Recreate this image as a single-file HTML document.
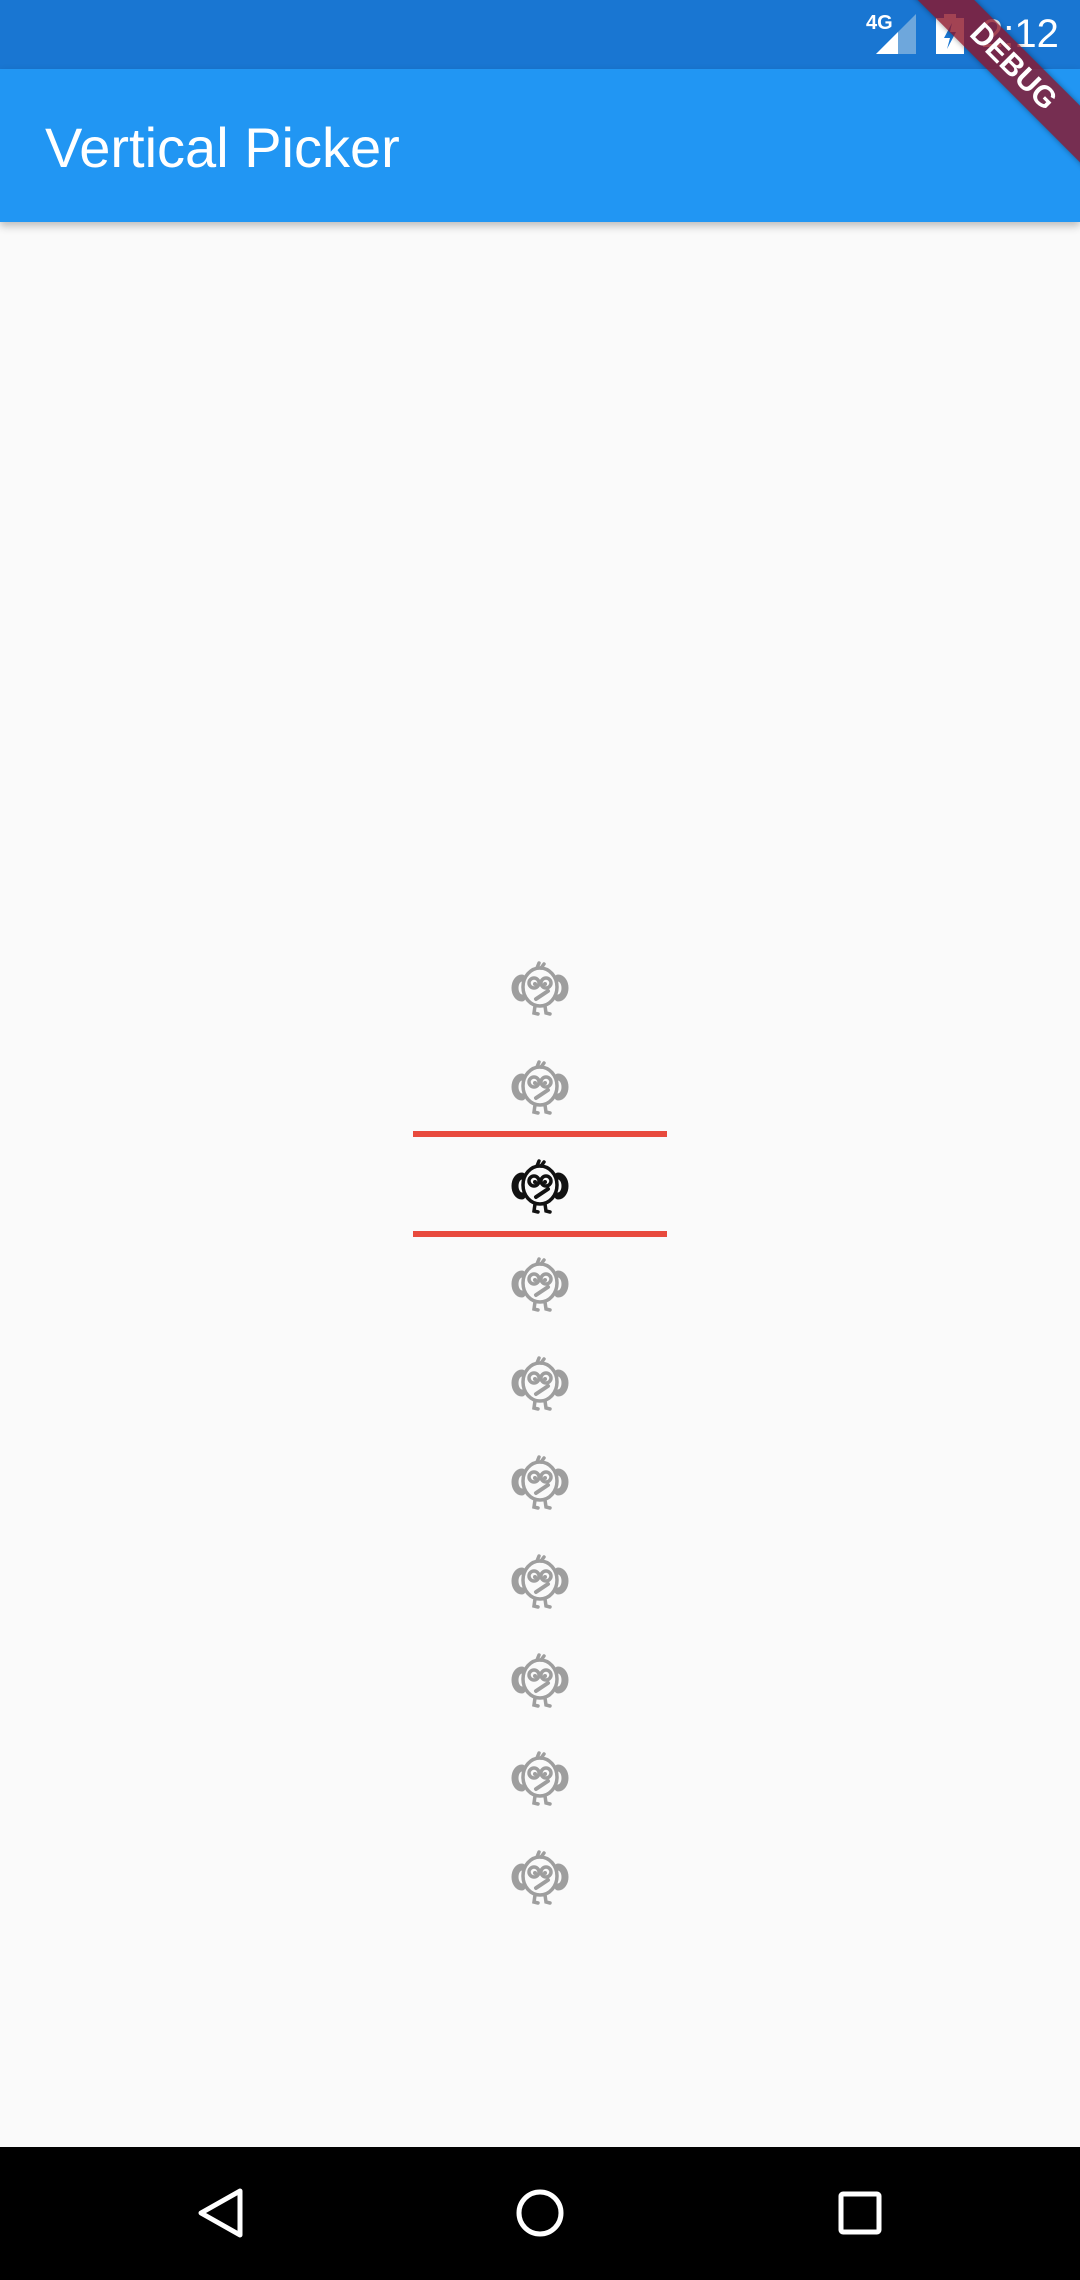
<!DOCTYPE html>
<html><head><meta charset="utf-8">
<style>
html,body{margin:0;padding:0;}
body{width:1080px;height:2280px;position:relative;overflow:hidden;background:#FAFAFA;font-family:"Liberation Sans",sans-serif;}
#status{position:absolute;left:0;top:0;width:1080px;height:69px;background:#1976D2;}
#appbar{position:absolute;left:0;top:69px;width:1080px;height:153px;background:#2196F3;box-shadow:0 4px 8px rgba(0,0,0,0.25);}
#title{position:absolute;left:45px;top:49px;font-size:56px;color:#fff;line-height:60px;}
#nav{position:absolute;left:0;top:2147px;width:1080px;height:133px;background:#000;}
.icon{position:absolute;width:60px;height:60px;}
.sel-line{position:absolute;left:413px;width:254px;height:6px;background:#E84A3D;}
#banner{position:absolute;left:863px;top:47px;width:300px;height:40px;background:rgba(140,20,40,0.8);transform:rotate(45deg);color:#fff;font-weight:bold;font-size:30px;text-align:center;line-height:40px;box-shadow:0 0 6px rgba(0,0,0,0.4);}
</style></head><body>
<div id="status">
  <span style="position:absolute;left:866px;top:12px;color:#fff;font-size:20px;font-weight:bold;">4G</span>
  <svg style="position:absolute;left:876px;top:14px" width="40" height="40"><polygon points="0,40 40,0 40,40" fill="#6ea7dc"/><polygon points="0,40 22,18 22,40" fill="#fff"/></svg>
  <svg style="position:absolute;left:936px;top:14px" width="28" height="40"><rect x="8" y="0" width="12" height="4" fill="#fff"/><rect x="0" y="4" width="28" height="36" fill="#fff"/><polygon points="16,9 8,24 14,24 11,35 20,18 14,18" fill="#1976D2"/></svg>
  <span style="position:absolute;left:981px;top:12px;color:#fff;font-size:40px;">2:12</span>
</div>
<div id="appbar"><div id="title">Vertical Picker</div></div>
<div id="banner">DEBUG</div>
<div id="picker"></div>
<div class="sel-line" style="top:1131px"></div>
<div class="sel-line" style="top:1231px"></div>
<div id="nav">
  <svg style="position:absolute;left:195px;top:40px" width="52" height="52"><polygon points="45,4 45,48 6,26" fill="none" stroke="#fff" stroke-width="5" stroke-linejoin="round"/></svg>
  <svg style="position:absolute;left:514px;top:40px" width="52" height="52"><circle cx="26" cy="26" r="21" fill="none" stroke="#fff" stroke-width="5"/></svg>
  <svg style="position:absolute;left:838px;top:44px" width="44" height="44"><rect x="3" y="3" width="38" height="38" rx="2" fill="none" stroke="#fff" stroke-width="5"/></svg>
</div>
<script>
const items = [0,1,2,3,4,5,6,7,8,9];
const selectedIndex = 2;
const firstCenter = 987, spacing = 98.8;
const picker = document.getElementById('picker');
function owl(color){
  return '<svg width="60" height="60" viewBox="0 0 60 60"><g fill="none" stroke="'+color+'" stroke-width="3.5" stroke-linecap="round">'+
  '<ellipse cx="30" cy="30" rx="17" ry="19"/>'+
  '<path d="M12 21 A7 10 0 0 0 12 41" stroke-width="7"/><path d="M48 21 A7 10 0 0 1 48 41" stroke-width="7"/>'+
  '<path d="M27 11 L29 6 M31 11 L34 7"/>'+
  '<circle cx="24" cy="26" r="5"/><circle cx="36" cy="26" r="5"/>'+
  '<path d="M38 34 L26 42" stroke-width="4"/>'+
  '<path d="M25 49 L24 56 L28 57 M35 49 L36 56 L40 57"/></g>'+
  '<circle cx="25" cy="27" r="2" fill="'+color+'"/><circle cx="35" cy="27" r="2" fill="'+color+'"/></svg>';
}
items.forEach((v,i)=>{
  const d=document.createElement('div');
  d.className='icon';
  d.style.left='510px';
  d.style.top=(firstCenter+i*spacing-30)+'px';
  d.innerHTML=owl(i===selectedIndex?'#111':'#9E9E9E');
  
  
  picker.appendChild(d);
});
</script>
</body></html>
